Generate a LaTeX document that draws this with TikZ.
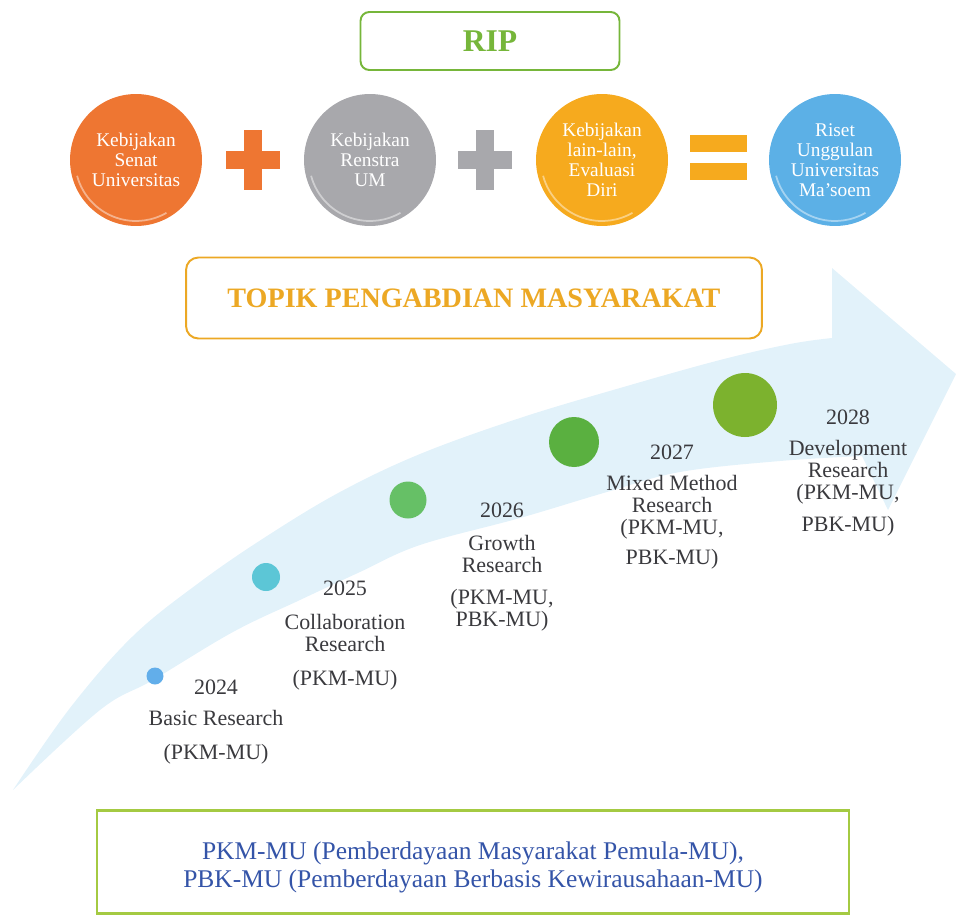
\documentclass[tikz,border=0pt]{standalone}
\usepackage{fontspec}
\setmainfont{Liberation Serif}
\usetikzlibrary{positioning}
\definecolor{ripgreen}{RGB}{118,182,58}
\definecolor{topikgold}{RGB}{236,168,36}
\definecolor{notegreen}{RGB}{164,202,66}
\definecolor{noteblue}{RGB}{52,84,168}
\definecolor{senatorange}{RGB}{238,118,50}
\definecolor{renstragray}{RGB}{168,168,172}
\definecolor{evalgold}{RGB}{246,170,30}
\definecolor{risetblue}{RGB}{92,176,230}
\definecolor{bandblue}{RGB}{226,242,250}
\definecolor{labelgray}{RGB}{58,58,62}
\definecolor{dotblue}{RGB}{98,174,234}
\definecolor{dotteal}{RGB}{92,198,214}
\definecolor{dotgreen}{RGB}{102,192,102}
\definecolor{dotleaf}{RGB}{90,176,64}
\definecolor{dotolive}{RGB}{124,178,46}

\begin{document}
\begin{tikzpicture}[x=0.02cm,y=-0.02cm,
  policy/.style={circle,fill=#1,minimum size=2.64cm,inner sep=0pt,align=center,
    text=white,font=\fontsize{11}{11.4}\selectfont,
    path picture={\draw[white,opacity=.45,line width=1pt]
      (path picture bounding box.center) ++(195:1.22cm)
      arc[start angle=195,end angle=300,radius=1.22cm];}},
  headbox/.style={rectangle,rounded corners=5pt,draw=#1,line width=1.1pt,fill=white},
  milestone/.style={circle,fill=#1,inner sep=0pt},
  yearlabel/.style={anchor=north,inner sep=0pt,align=center,text=labelgray,
    font=\fontsize{12.5}{12.5}\selectfont}
]
\useasboundingbox (0,0) rectangle (956,916);

% curved timeline arrow
\fill[bandblue] plot[smooth,tension=0.6] coordinates {(13,790) (70,708) (133,636) (200,582)
    (267,536) (340,492) (420,454) (520,418) (620,388) (720,360) (790,344) (832,338)}
  -- (832,268) -- (956,374) -- (888,510) -- (862,456)
  -- plot[smooth,tension=0.6] coordinates {(862,456) (780,461) (680,472) (607,492)
    (520,518) (420,545) (360,572) (300,600) (233,632) (153,680) (100,710) (13,790)}
  -- cycle;

% RIP
\node[headbox=ripgreen,minimum width=5.18cm,minimum height=1.16cm,
  text=ripgreen,font=\fontsize{18}{20}\selectfont\bfseries] (rip) at (490,41) {RIP};

\node[policy=senatorange] (senat) at (136,160) {Kebijakan\\Senat\\Universitas};
\node[policy=renstragray] (renstra) at (370,160) {Kebijakan\\Renstra\\UM};
\node[policy=evalgold] (evaluasi) at (602,160) {Kebijakan\\lain-lain,\\Evaluasi\\Diri};
\node[policy=risetblue] (riset) at (835,160) {Riset\\Unggulan\\Universitas\\Ma'soem};

% operators
\foreach \cx/\col in {253/senatorange,485/renstragray}{
  \fill[\col] (\cx-27,151) rectangle (\cx+27,169);
  \fill[\col] (\cx-9,130) rectangle (\cx+9,190);
}
\fill[evalgold] (690,135) rectangle (747,152);
\fill[evalgold] (690,163) rectangle (747,180);

% TOPIK
\node[headbox=topikgold,rounded corners=7pt,minimum width=11.52cm,minimum height=1.62cm,
  text=topikgold,font=\fontsize{16}{18}\selectfont\bfseries] (topik) at (474,298)
  {TOPIK PENGABDIAN MASYARAKAT};

% milestones
\node[milestone=dotblue,minimum size=0.34cm] (dot24) at (155,676) {};
\node[milestone=dotteal,minimum size=0.56cm] (dot25) at (266,577) {};
\node[milestone=dotgreen,minimum size=0.74cm] (dot26) at (408,500) {};
\node[milestone=dotleaf,minimum size=1.0cm] (dot27) at (574,442) {};
\node[milestone=dotolive,minimum size=1.28cm] (dot28) at (745,405) {};

\node[yearlabel] (lab24) at (216,679.5) {2024\\[1.8mm]Basic Research\\[2.4mm](PKM-MU)};
\node[yearlabel] (lab25) at (345,580.5) {2025\\[2.4mm]Collaboration\\Research\\[2.4mm](PKM-MU)};
\node[yearlabel] (lab26) at (502,502.5) {2026\\[2.2mm]Growth\\Research\\[2mm](PKM-MU,\\PBK-MU)};
\node[yearlabel] (lab27) at (672,444.5) {2027\\[1.8mm]Mixed Method\\Research\\(PKM-MU,\\[1.6mm]PBK-MU)};
\node[yearlabel] (lab28) at (848,409.5) {2028\\[1.8mm]Development\\Research\\(PKM-MU,\\[2mm]PBK-MU)};

% keterangan
\node[rectangle,draw=notegreen,line width=1.4pt,minimum width=15.04cm,minimum height=2.06cm]
  (note) at (473,862) {};
\node[align=center,text=noteblue,font=\fontsize{14.5}{15.9}\selectfont] (notetext) at (473,867)
  {PKM-MU (Pemberdayaan Masyarakat Pemula-MU),\\PBK-MU (Pemberdayaan Berbasis Kewirausahaan-MU)};
\end{tikzpicture}
\end{document}
